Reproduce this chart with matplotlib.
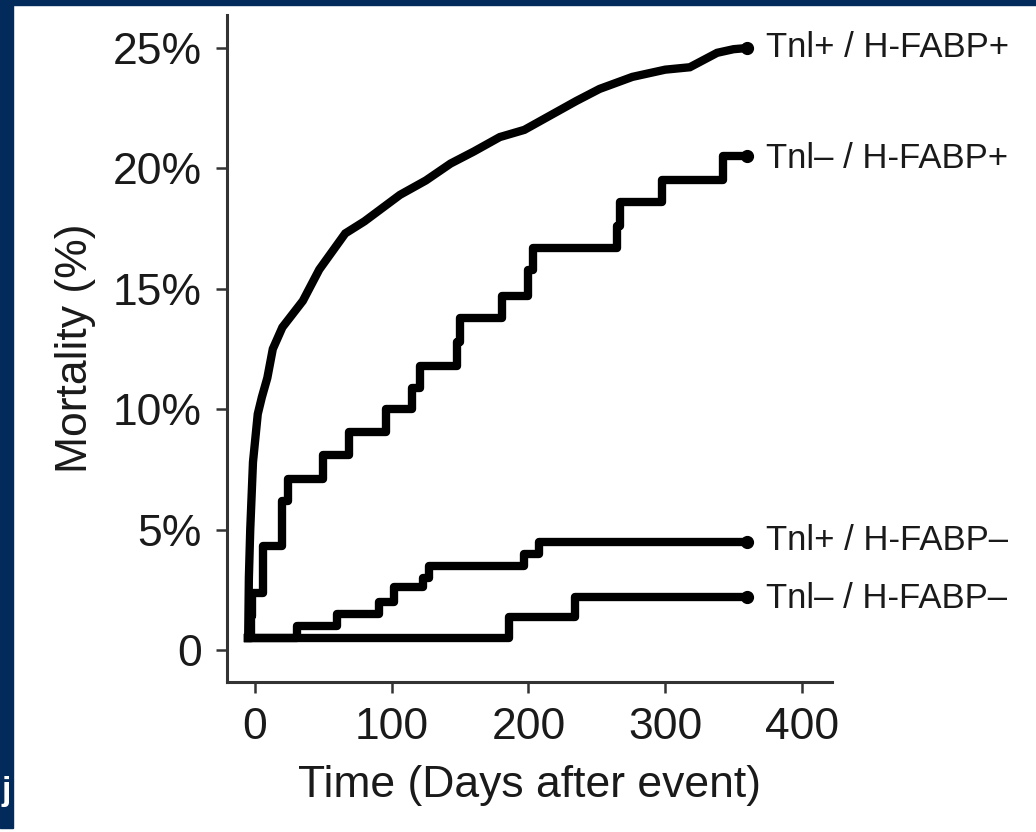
import matplotlib
matplotlib.use('Agg')
import matplotlib.pyplot as plt
from matplotlib.patches import Rectangle

plt.rcParams['font.family'] = ['Liberation Sans', 'DejaVu Sans']

# Tnl+ / H-FABP+ (many small events)
days_pp = [-5, -4.5, -3.5, -1.5, 2, 5, 9, 13, 20, 35, 47, 66, 80, 106, 125, 143,
           160, 179, 197, 216, 235, 252, 276, 300, 318, 338, 350, 360]
mort_pp = [0.5, 3.0, 5.0, 7.8, 9.8, 10.5, 11.3, 12.5, 13.4, 14.5, 15.8, 17.3, 17.8,
           18.9, 19.5, 20.2, 20.7, 21.3, 21.6, 22.2, 22.8, 23.3, 23.8, 24.1, 24.2,
           24.8, 24.95, 25.0]

# Tnl- / H-FABP+
days_mp = [-5, -3, -2, 6, 20, 24, 50, 69, 96, 115, 121, 148, 150, 181, 200, 203,
           265, 267, 298, 342, 360]
mort_mp = [0.5, 1.4, 2.35, 4.3, 6.2, 7.1, 8.1, 9.05, 10.0, 10.9, 11.8, 12.8, 13.8,
           14.7, 15.8, 16.7, 17.6, 18.6, 19.5, 20.5, 20.5]

# Tnl+ / H-FABP-
days_pm = [-5, 31, 60, 91, 102, 123, 127, 197, 208, 360]
mort_pm = [0.5, 1.0, 1.5, 2.0, 2.6, 3.0, 3.5, 4.0, 4.5, 4.5]

# Tnl- / H-FABP-
days_mm = [-5, 186, 234, 360]
mort_mm = [0.5, 1.35, 2.2, 2.2]

labels = ['Tnl+ / H-FABP+', 'Tnl\u2013 / H-FABP+', 'Tnl+ / H-FABP\u2013', 'Tnl\u2013 / H-FABP\u2013']
label_y = [25.0, 20.4, 4.55, 2.15]

yticks = [0, 5, 10, 15, 20, 25]
ytick_labels = ['0', '5%', '10%', '15%', '20%', '25%']
xticks = [0, 100, 200, 300, 400]

fig = plt.figure(figsize=(10.36, 8.32), dpi=100)
ax = fig.add_axes([227/1036, 1-682/832, 605/1036, 667/832])

lw = 6
ax.plot(days_pp, mort_pp, color='black', lw=lw, solid_joinstyle='miter')
ax.plot(days_mp, mort_mp, color='black', lw=lw, drawstyle='steps-post')
ax.plot(days_pm, mort_pm, color='black', lw=lw, drawstyle='steps-post')
ax.plot(days_mm, mort_mm, color='black', lw=lw, drawstyle='steps-post')

ends = [mort_pp[-1], mort_mp[-1], mort_pm[-1], mort_mm[-1]]
ax.plot([360]*4, ends, 'o', color='black', ms=8.5)

for lab, yy in zip(labels, label_y):
    ax.text(374, yy, lab, fontsize=25, va='center', ha='left', color='#1a1a1a', clip_on=False)

ax.set_xlim(-20.5, 422)
ax.set_ylim(-1.33, 26.37)
ax.set_yticks(yticks)
ax.set_yticklabels(ytick_labels)
ax.set_xticks(xticks)
ax.tick_params(direction='out', length=8, width=1.8, color='#333333',
               labelsize=32, labelcolor='#1a1a1a', pad=10)
for s in ['top', 'right']:
    ax.spines[s].set_visible(False)
for s in ['left', 'bottom']:
    ax.spines[s].set_linewidth(2.2)
    ax.spines[s].set_color('#333333')

ax.set_xlabel('Time (Days after event)', fontsize=32, color='#1a1a1a', labelpad=12)
ax.set_ylabel('Mortality (%)', fontsize=32, color='#1a1a1a', labelpad=12)

# navy slide border
fig.patches.append(Rectangle((0, 0.005), 13/1036, 0.995, transform=fig.transFigure,
                             color='#022a5a', zorder=-1))
fig.patches.append(Rectangle((0, 1-5/832), 1, 5/832, transform=fig.transFigure,
                             color='#022a5a', zorder=-1))
fig.text(0.001, 1-800/832, 'j', color='white', fontsize=24, fontweight='bold')

fig.savefig('out.png', dpi=100)
